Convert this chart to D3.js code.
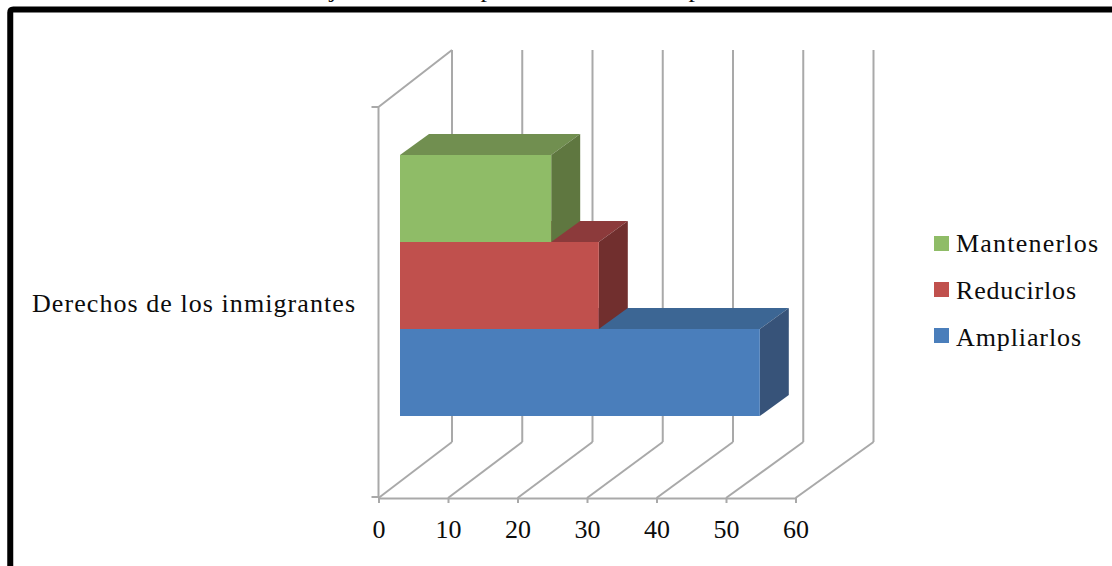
<!DOCTYPE html>
<html lang="es">
<head>
<meta charset="utf-8">
<title>Derechos de los inmigrantes</title>
<script src="https://cdn.jsdelivr.net/npm/d3@7/dist/d3.min.js"></script>
<style>
  html, body { margin: 0; padding: 0; background: #fff; overflow: hidden; }
  svg { display: block; }
  text { font-family: "Liberation Serif", serif; fill: #0c0c0c; }
</style>
</head>
<body>
<svg id="chart" width="1112" height="566"></svg>
<script>
const categoryLabel = "Derechos de los inmigrantes";
const seriesNames = ["Ampliarlos", "Reducirlos", "Mantenerlos"];
const seriesValues = [51.4, 28.4, 21.6];
const legendOrder = ["Mantenerlos", "Reducirlos", "Ampliarlos"];
const axisTicks = [0, 10, 20, 30, 40, 50, 60];
const titleDescenders = [["j", 333], ["p", 487], ["p", 695]];

// Front, side and top shades of each bar
const shades = {
  Ampliarlos: { front: "#4a7ebb", side: "#375379", top: "#3c6694" },
  Reducirlos: { front: "#c0504d", side: "#712f2e", top: "#8c3a3b" },
  Mantenerlos: { front: "#8fbc67", side: "#5f7740", top: "#718f50" }
};

const svg = d3.select("#chart");

// One horizontal scale per depth plane of the 3D box
const xFront = d3.scaleLinear().domain([0, 60]).range([378.5, 795.5]);
const xBack = d3.scaleLinear().domain([0, 60]).range([452, 873.5]);
const xBar = d3.scaleLinear().domain([0, 60]).range([400, 820]);
const yBands = d3.scaleBand().domain(seriesNames).range([416, 155]);

const wall = { top: 50, bottom: 442 };
const floorY = 498;
const leftTopY = 107;
const barDepth = { dx: 29, dy: -21 };
const gridColor = "#a9a9a9";
const fontSize = 26;

// Outer frame, running off the right and bottom edges
svg.append("path")
  .attr("d", "M10.25,572V12.5Q10.25,9.5 13.25,9.5H1120")
  .attr("fill", "none").attr("stroke", "#000").attr("stroke-width", 6);

// Back wall gridlines and the floor diagonals
const grid = svg.append("g").attr("stroke", gridColor).attr("stroke-width", 2).attr("fill", "none");
grid.selectAll("line.wall").data(axisTicks).join("line").attr("class", "wall")
  .attr("x1", d => xBack(d)).attr("x2", d => xBack(d))
  .attr("y1", wall.top).attr("y2", wall.bottom);
grid.selectAll("line.floor").data(axisTicks).join("line").attr("class", "floor")
  .attr("x1", d => xFront(d)).attr("x2", d => xBack(d))
  .attr("y1", floorY).attr("y2", wall.bottom);

// Left side wall: edge, upper diagonal and end ticks
grid.append("path")
  .attr("d", `M${xFront(0) - 7},${floorY - 1}H${xFront(0)}M${xFront(0)},${floorY}V${leftTopY}H${xFront(0) - 7}M${xFront(0)},${leftTopY}L${xBack(0)},${wall.top}`);

// Bars, nearest the floor first so the upper ones overlap its top face
const bars = svg.append("g").selectAll("g")
  .data(seriesNames.map((name, i) => ({ name, value: seriesValues[i] })))
  .join("g");

bars.append("path").attr("fill", d => shades[d.name].top).attr("d", d => {
  const x0 = xBar(0), x1 = xBar(d.value), y = yBands(d.name);
  return `M${x0},${y}L${x0 + barDepth.dx},${y + barDepth.dy}H${x1 + barDepth.dx}L${x1},${y}Z`;
});
bars.append("path").attr("fill", d => shades[d.name].side).attr("d", d => {
  const x1 = xBar(d.value), y = yBands(d.name), h = yBands.bandwidth();
  return `M${x1},${y}L${x1 + barDepth.dx},${y + barDepth.dy}V${y + barDepth.dy + h}L${x1},${y + h}Z`;
});
bars.append("rect").attr("fill", d => shades[d.name].front)
  .attr("x", xBar(0)).attr("y", d => yBands(d.name))
  .attr("width", d => xBar(d.value) - xBar(0)).attr("height", yBands.bandwidth());

// Value axis along the front of the floor
const axis = svg.append("g").attr("transform", `translate(0,${floorY})`)
  .call(d3.axisBottom(xFront).tickValues(axisTicks).tickSize(5).tickPadding(16.5).tickFormat(d3.format("d")));
axis.selectAll("path, line").attr("stroke", gridColor).attr("stroke-width", 2);
axis.selectAll("text").attr("font-size", fontSize).style("font-family", '"Liberation Serif", serif').attr("fill", "#0c0c0c");

// Category label
svg.append("text").attr("x", 32).attr("y", 312).attr("font-size", fontSize)
  .attr("textLength", 323).attr("lengthAdjust", "spacing").text(categoryLabel);

// Legend
const legendRow = d3.scalePoint().domain(legendOrder).range([236, 328]);
const legendBaseline = d3.scalePoint().domain(legendOrder).range([252, 346]);
const legendWidths = [142, 120, 125];
const legend = svg.append("g").selectAll("g").data(legendOrder).join("g");
legend.append("rect").attr("x", 934).attr("y", d => legendRow(d))
  .attr("width", 15).attr("height", 15).attr("fill", d => shades[d].front);
legend.append("text").attr("x", 956).attr("y", d => legendBaseline(d)).attr("font-size", fontSize)
  .attr("textLength", (d, i) => legendWidths[i]).attr("lengthAdjust", "spacing").text(d => d);

// Descenders of the heading, whose upper part lies above the page
svg.append("g").selectAll("text").data(titleDescenders).join("text")
  .attr("x", d => d[1]).attr("y", -3).attr("text-anchor", "middle").attr("font-size", fontSize)
  .text(d => d[0]);
</script>
</body>
</html>
